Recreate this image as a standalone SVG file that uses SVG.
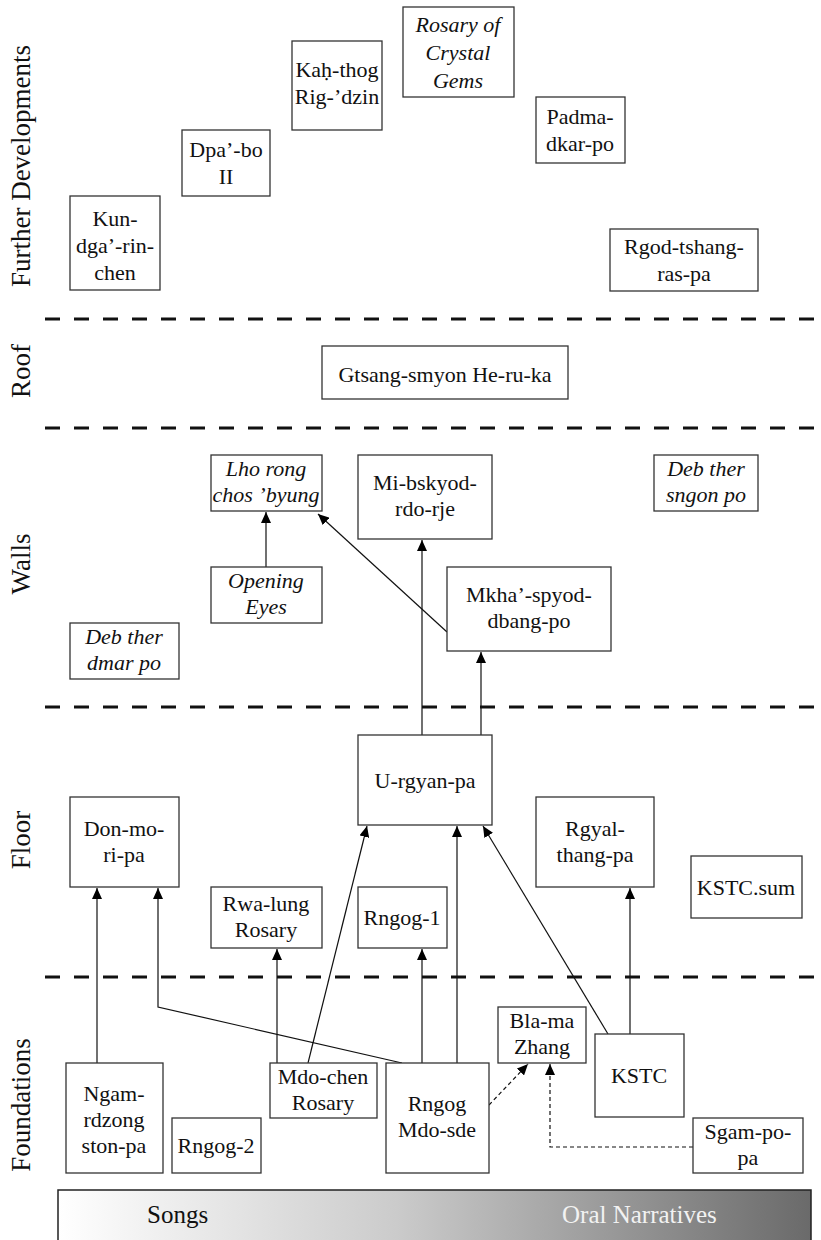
<svg xmlns="http://www.w3.org/2000/svg" width="821" height="1240" viewBox="0 0 821 1240">
<style>
.box{fill:#fff;stroke:#333;stroke-width:1.3}
.t{font-size:22px;fill:#111;text-anchor:middle}
.i{font-style:italic}
.side{font-size:27px;fill:#111;text-anchor:middle}
.sep{stroke:#111;stroke-width:3;stroke-dasharray:15 14;fill:none}
.c{stroke:#111;stroke-width:1.2;fill:none;marker-end:url(#ah)}
.d{stroke:#111;stroke-width:1.2;fill:none;stroke-dasharray:4 3;marker-end:url(#ah)}
.bar{font-size:25px}
</style>
<defs>
<marker id="ah" markerUnits="userSpaceOnUse" markerWidth="12" markerHeight="10" refX="11" refY="5" orient="auto">
<path d="M0,0 L11,5 L0,10 z" fill="#000"/>
</marker>
<linearGradient id="g" x1="0" y1="0" x2="1" y2="0">
<stop offset="0" stop-color="#ffffff"/>
<stop offset="0.45" stop-color="#cbcbcb"/>
<stop offset="1" stop-color="#6a6a6a"/>
</linearGradient>
</defs>

<g id="separators">
<line class="sep" x1="45" y1="319" x2="821" y2="319"/>
<line class="sep" x1="45" y1="428" x2="821" y2="428"/>
<line class="sep" x1="45" y1="707" x2="821" y2="707"/>
<line class="sep" x1="45" y1="977" x2="821" y2="977"/>
</g>

<g font-family="'Liberation Serif', 'DejaVu Serif', 'Noto Serif', Tinos, 'Nimbus Roman', FreeSerif, 'Times New Roman', Times, serif">
<g id="labels">
<text class="side" transform="translate(30,166) rotate(-90)">Further Developments</text>
<text class="side" transform="translate(30,371) rotate(-90)">Roof</text>
<text class="side" transform="translate(30,564) rotate(-90)">Walls</text>
<text class="side" transform="translate(30,840) rotate(-90)">Floor</text>
<text class="side" transform="translate(30,1105) rotate(-90)">Foundations</text>
</g>

<g id="connectors">
<line class="c" x1="266" y1="567" x2="266" y2="512"/>
<line class="c" x1="447" y1="632" x2="318" y2="514"/>
<line class="c" x1="422" y1="735" x2="422" y2="540"/>
<line class="c" x1="481" y1="735" x2="481" y2="652"/>
<line class="c" x1="97" y1="1063" x2="97" y2="888"/>
<polyline class="c" points="402,1063 158,1007 158,888"/>
<line class="c" x1="277" y1="1063" x2="277" y2="949"/>
<line class="c" x1="308" y1="1063" x2="367" y2="826"/>
<line class="c" x1="422" y1="1063" x2="422" y2="949"/>
<line class="c" x1="457" y1="1063" x2="457" y2="826"/>
<line class="c" x1="608" y1="1034" x2="483" y2="826"/>
<line class="c" x1="630" y1="1034" x2="630" y2="888"/>
<line class="d" x1="489" y1="1105" x2="528" y2="1064"/>
<polyline class="d" points="693,1147 550,1147 550,1064"/>
</g>

<g id="kun"><rect class="box" x="70" y="196" width="90" height="94"/><text class="t"><tspan x="115" y="226">Kun-</tspan><tspan x="115" y="253">dga’-rin-</tspan><tspan x="115" y="280">chen</tspan></text></g>
<g id="dpabo"><rect class="box" x="182" y="130" width="88" height="66"/><text class="t"><tspan x="226" y="157">Dpa’-bo</tspan><tspan x="226" y="184">II</tspan></text></g>
<g id="kahthog"><rect class="box" x="292" y="41" width="90" height="89"/><text class="t"><tspan x="337" y="77">Kaḥ-thog</tspan><tspan x="337" y="104">Rig-’dzin</tspan></text></g>
<g id="rosary"><rect class="box" x="403" y="7" width="111" height="90"/><text class="t i"><tspan x="458" y="32">Rosary of</tspan><tspan x="458" y="60">Crystal</tspan><tspan x="458" y="88">Gems</tspan></text></g>
<g id="padma"><rect class="box" x="536" y="97" width="89" height="66"/><text class="t"><tspan x="580" y="124">Padma-</tspan><tspan x="580" y="151">dkar-po</tspan></text></g>
<g id="rgod"><rect class="box" x="610" y="229" width="148" height="62"/><text class="t"><tspan x="684" y="254">Rgod-tshang-</tspan><tspan x="684" y="281">ras-pa</tspan></text></g>

<g id="gtsang"><rect class="box" x="322" y="346" width="246" height="53"/><text class="t" x="445" y="382">Gtsang-smyon He-ru-ka</text></g>

<g id="lhorong"><rect class="box" x="211" y="455" width="111" height="56"/><text class="t i"><tspan x="266" y="476">Lho rong</tspan><tspan x="266" y="502">chos ’byung</tspan></text></g>
<g id="mibskyod"><rect class="box" x="358" y="455" width="134" height="84"/><text class="t"><tspan x="425" y="490">Mi-bskyod-</tspan><tspan x="425" y="516">rdo-rje</tspan></text></g>
<g id="debsngon"><rect class="box" x="654" y="455" width="104" height="56"/><text class="t i"><tspan x="706" y="476">Deb ther</tspan><tspan x="706" y="502">sngon po</tspan></text></g>
<g id="opening"><rect class="box" x="211" y="567" width="111" height="56"/><text class="t i"><tspan x="266" y="588">Opening</tspan><tspan x="266" y="614">Eyes</tspan></text></g>
<g id="mkha"><rect class="box" x="447" y="567" width="164" height="84"/><text class="t"><tspan x="529" y="602">Mkha’-spyod-</tspan><tspan x="529" y="628">dbang-po</tspan></text></g>
<g id="debdmar"><rect class="box" x="70" y="623" width="109" height="56"/><text class="t i"><tspan x="124" y="644">Deb ther</tspan><tspan x="124" y="670">dmar po</tspan></text></g>

<g id="urgyan"><rect class="box" x="358" y="735" width="134" height="90"/><text class="t" x="425" y="788">U-rgyan-pa</text></g>
<g id="donmo"><rect class="box" x="70" y="797" width="109" height="90"/><text class="t"><tspan x="124" y="836">Don-mo-</tspan><tspan x="124" y="862">ri-pa</tspan></text></g>
<g id="rgyal"><rect class="box" x="536" y="797" width="118" height="90"/><text class="t"><tspan x="595" y="836">Rgyal-</tspan><tspan x="595" y="862">thang-pa</tspan></text></g>
<g id="kstcsum"><rect class="box" x="691" y="856" width="111" height="62"/><text class="t" x="746" y="895">KSTC.sum</text></g>
<g id="rwalung"><rect class="box" x="211" y="887" width="111" height="61"/><text class="t"><tspan x="266" y="911">Rwa-lung</tspan><tspan x="266" y="937">Rosary</tspan></text></g>
<g id="rngog1"><rect class="box" x="358" y="887" width="89" height="61"/><text class="t" x="402" y="925">Rngog-1</text></g>

<g id="blama"><rect class="box" x="498" y="1007" width="88" height="56"/><text class="t"><tspan x="542" y="1028">Bla-ma</tspan><tspan x="542" y="1054">Zhang</tspan></text></g>
<g id="kstc"><rect class="box" x="595" y="1034" width="89" height="83"/><text class="t" x="639" y="1083">KSTC</text></g>
<g id="ngam"><rect class="box" x="66" y="1063" width="97" height="110"/><text class="t"><tspan x="114" y="1101">Ngam-</tspan><tspan x="114" y="1127">rdzong</tspan><tspan x="114" y="1153">ston-pa</tspan></text></g>
<g id="mdochen"><rect class="box" x="270" y="1063" width="107" height="55"/><text class="t"><tspan x="323" y="1084">Mdo-chen</tspan><tspan x="323" y="1110">Rosary</tspan></text></g>
<g id="rngogmdo"><rect class="box" x="386" y="1063" width="103" height="110"/><text class="t"><tspan x="437" y="1111">Rngog</tspan><tspan x="437" y="1137">Mdo-sde</tspan></text></g>
<g id="rngog2"><rect class="box" x="172" y="1118" width="89" height="55"/><text class="t" x="216" y="1153">Rngog-2</text></g>
<g id="sgam"><rect class="box" x="693" y="1118" width="110" height="55"/><text class="t"><tspan x="748" y="1139">Sgam-po-</tspan><tspan x="748" y="1165">pa</tspan></text></g>

<g id="spectrum">
<rect x="58" y="1190" width="753" height="60" fill="url(#g)" stroke="#222" stroke-width="1.5"/>
<text class="bar" x="147" y="1223" fill="#111">Songs</text>
<text class="bar" x="562" y="1223" fill="#f2f2f2">Oral Narratives</text>
</g>
</g>
</svg>
